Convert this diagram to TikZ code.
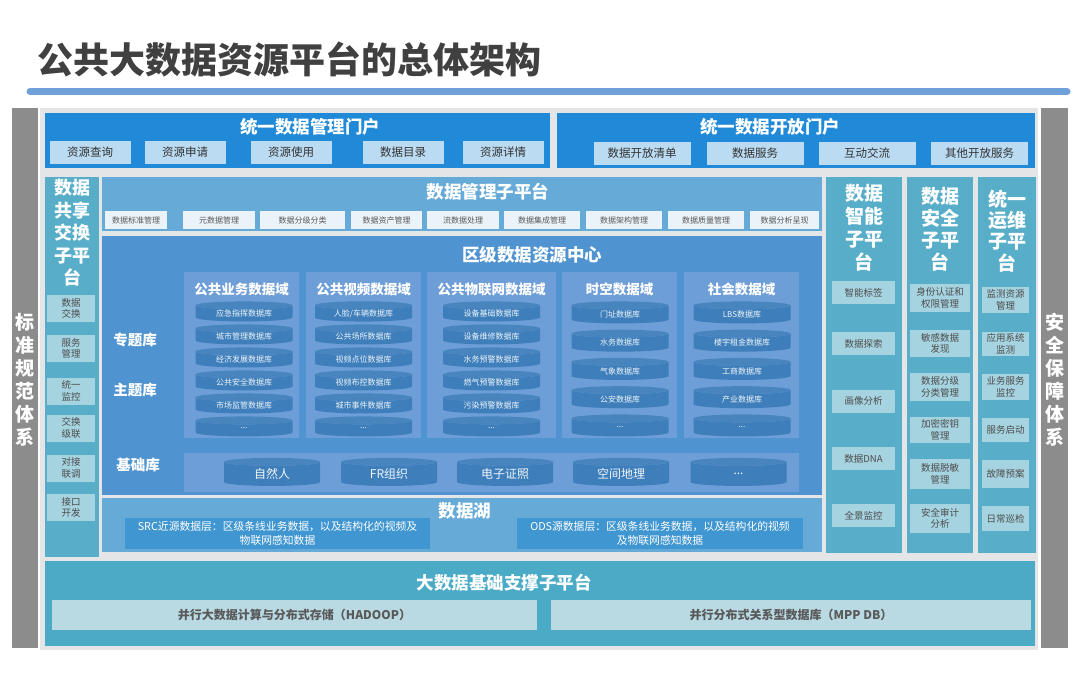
\documentclass[tikz,border=0pt]{standalone}
\usepackage{fontspec}
\setmainfont{Noto Sans CJK SC}
\usetikzlibrary{shapes.geometric, fit, positioning}

\definecolor{sidegray}{HTML}{8C8C8C}
\definecolor{framegray}{HTML}{E3E5E6}
\definecolor{portblue}{HTML}{2089D8}
\definecolor{portlight}{HTML}{BADBF2}
\definecolor{tealcol}{HTML}{58AEC8}
\definecolor{teallight}{HTML}{A6D3E0}
\definecolor{mgmtblue}{HTML}{66AAD8}
\definecolor{mgmtlight}{HTML}{EAF3FA}
\definecolor{centerblue}{HTML}{4F93D0}
\definecolor{domblue}{HTML}{6E9ED8}
\definecolor{cylblue}{HTML}{3E7FBB}
\definecolor{lakebox}{HTML}{4096D0}
\definecolor{baseteal}{HTML}{4BAAC6}
\definecolor{baselight}{HTML}{BADAE3}
\definecolor{titlegray}{HTML}{404040}
\definecolor{barblue}{HTML}{70A0D8}
\definecolor{itemtext}{HTML}{333333}

\newcommand{\etc}{...}

\tikzset{
  area/.style={inner sep=0, outer sep=0, draw=none},
  head/.style={text=white, inner sep=0, font=\bfseries\fontsize{17.5}{20}\selectfont},
  stack/.style={text=white, inner sep=0, align=center, font=\bfseries\fontsize{19}{23}\selectfont},
  portitem/.style={fill=portlight, inner sep=0, minimum width=81, minimum height=23,
    text=itemtext, font=\fontsize{11.5}{13}\selectfont},
  mgmtitem/.style={fill=mgmtlight, inner sep=0, minimum height=18,
    text=black!65, font=\fontsize{8}{9}\selectfont},
  dompanel/.style={fill=domblue, inner sep=0, minimum height=166},
  domtitle/.style={text=white, inner sep=0, font=\bfseries\fontsize{13.5}{15}\selectfont},
  dbcyl/.style={cylinder, shape border rotate=90, aspect=0.09, draw=none,
    cylinder uses custom fill, cylinder body fill=cylblue, cylinder end fill=cylblue!95!white,
    inner sep=0, text width=88, align=center, minimum width=97, minimum height=20,
    text=white!92!cylblue, font=\fontsize{8}{9}\selectfont},
  sideitem/.style={fill=teallight, inner sep=0, align=center,
    text=black!70, font=\fontsize{9.5}{11.5}\selectfont},
  lvl/.style={text=white, inner sep=0, font=\bfseries\fontsize{14.5}{16}\selectfont}
}

\begin{document}
\begin{tikzpicture}[x=1pt, y=-1pt]
  \useasboundingbox (0,0) rectangle (1080,675);

  % title
  \node[anchor=west, inner sep=0, text=titlegray, font=\bfseries\fontsize{36}{40}\selectfont]
    (title) at (37,59) {公共大数据资源平台的总体架构};
  \coordinate (barl) at (30,91.5);
  \coordinate (barr) at (1067,91.5);
  \draw[barblue, line width=7, line cap=round] (barl) -- (barr);

  % frame and side bars
  \node[area, fill=framegray, fit={(40,108) (1038,650)}] (frame) {};
  \node[area, fill=sidegray, fit={(12,108) (38,648)}] (stdbar) {};
  \node[area, fill=sidegray, fit={(1041,108) (1068,648)}] (secbar) {};
  \node[stack] (stdtxt) at (25,380) {标\\准\\规\\范\\体\\系};
  \node[stack] (sectxt) at (1054.5,380) {安\\全\\保\\障\\体\\系};

  % portals
  \node[area, fill=portblue, fit={(45,113) (550,168)}] (mportal) {};
  \node[head] (mportalt) at (310,127) {统一数据管理门户};
  \begin{scope}[every node/.style=portitem]
    \node (q1) at (90,152.5) {资源查询};
    \node (q2) at (185,152.5) {资源申请};
    \node (q3) at (291,152.5) {资源使用};
    \node (q4) at (403,152.5) {数据目录};
    \node (q5) at (503,152.5) {资源详情};
  \end{scope}

  \node[area, fill=portblue, fit={(557,113) (1035,168)}] (oportal) {};
  \node[head] (oportalt) at (770,127) {统一数据开放门户};
  \begin{scope}[every node/.style={portitem, minimum width=97}]
    \node (o1) at (642,153) {数据开放清单};
    \node (o2) at (755,153) {数据服务};
    \node (o3) at (867,153) {互动交流};
    \node (o4) at (979.5,153) {其他开放服务};
  \end{scope}

  % data sharing column
  \node[area, fill=tealcol, fit={(45,177) (99,557)}] (share) {};
  \node[stack, font=\bfseries\fontsize{18}{22.5}\selectfont] (sharet) at (72,233) {数据\\共享\\交换\\子平\\台};
  \begin{scope}[every node/.style={sideitem, minimum width=48, minimum height=27}]
    \node (s1) at (71,308.5) {数据\\交换};
    \node (s2) at (71,348.5) {服务\\管理};
    \node (s3) at (71,391) {统一\\监控};
    \node (s4) at (71,428) {交换\\级联};
    \node (s5) at (71,468) {对接\\联调};
    \node (s6) at (71,507.5) {接口\\开发};
  \end{scope}

  % data management platform
  \node[area, fill=mgmtblue, fit={(102,177) (822,231)}] (mgmt) {};
  \node[head] (mgmtt) at (488,192) {数据管理子平台};
  \begin{scope}[every node/.style=mgmtitem]
    \node[minimum width=62] (m1) at (136,220) {数据标准管理};
    \node[minimum width=72] (m2) at (219,220) {元数据管理};
    \node[minimum width=85] (m3) at (302.5,220) {数据分级分类};
    \node[minimum width=71] (m4) at (386.5,220) {数据资产管理};
    \node[minimum width=72] (m5) at (463,220) {流数据处理};
    \node[minimum width=76] (m6) at (542,220) {数据集成管理};
    \node[minimum width=76] (m7) at (624,220) {数据架构管理};
    \node[minimum width=76] (m8) at (706,220) {数据质量管理};
    \node[minimum width=69] (m9) at (784.5,220) {数据分析呈现};
  \end{scope}

  % district data resource center
  \node[area, fill=centerblue, fit={(102,236) (822,495)}] (center) {};
  \node[head] (centert) at (532,255) {区级数据资源中心};
  \node[lvl] (ztk) at (135,340) {专题库};
  \node[lvl] (ztk2) at (135,390) {主题库};
  \node[lvl] (jck) at (138,465) {基础库};

  \node[dompanel, minimum width=115] (d1) at (241.5,355) {};
  \node[dompanel, minimum width=115] (d2) at (363.5,355) {};
  \node[dompanel, minimum width=129] (d3) at (491.5,355) {};
  \node[dompanel, minimum width=115] (d4) at (619.5,355) {};
  \node[dompanel, minimum width=115] (d5) at (741.5,355) {};
  \node[domtitle] (d1t) at (241.5,289) {公共业务数据域};
  \node[domtitle] (d2t) at (363.5,289) {公共视频数据域};
  \node[domtitle] (d3t) at (491.5,289) {公共物联网数据域};
  \node[domtitle] (d4t) at (619.5,289) {时空数据域};
  \node[domtitle] (d5t) at (741.5,289) {社会数据域};

  \foreach \t [count=\i] in {应急指挥数据库, 城市管理数据库, 经济发展数据库, 公共安全数据库, 市场监管数据库, \etc}
    \node[dbcyl] (ywk\i) at (244,290.5+23*\i) {\t};
  \foreach \t [count=\i] in {人脸/车辆数据库, 公共场所数据库, 视频点位数据库, 视频布控数据库, 城市事件数据库, \etc}
    \node[dbcyl] (spk\i) at (363.5,290.5+23*\i) {\t};
  \foreach \t [count=\i] in {设备基础数据库, 设备维修数据库, 水务预警数据库, 燃气预警数据库, 污染预警数据库, \etc}
    \node[dbcyl] (wlk\i) at (491.5,290.5+23*\i) {\t};
  \foreach \t [count=\i] in {门址数据库, 水务数据库, 气象数据库, 公安数据库, \etc}
    \node[dbcyl, minimum height=22] (skk\i) at (620,286.25+28.25*\i) {\t};
  \foreach \t [count=\i] in {LBS数据库, 楼宇租金数据库, 工商数据库, 产业数据库, \etc}
    \node[dbcyl, minimum height=22] (shk\i) at (742,286.25+28.25*\i) {\t};

  \node[area, fill=domblue, fit={(184,453) (799,492)}] (base) {};
  \begin{scope}[every node/.style={dbcyl, minimum width=96, minimum height=28, font=\fontsize{12}{14}\selectfont}]
    \node (b1) at (272,474) {自然人};
    \node (b2) at (389,474) {FR组织};
    \node (b3) at (505,474) {电子证照};
    \node (b4) at (621,474) {空间地理};
    \node (b5) at (738.5,474) {\etc};
  \end{scope}

  % data lake
  \node[area, fill=mgmtblue, fit={(102,498) (822,552)}] (lake) {};
  \node[head] (laket) at (465,511) {数据湖};
  \begin{scope}[every node/.style={fill=lakebox, inner sep=0, minimum height=31, align=center,
      text=white, font=\fontsize{10.8}{14}\selectfont}]
    \node[minimum width=305] (src) at (277.5,533.5) {SRC近源数据层：区级条线业务数据，以及结构化的视频及\\物联网感知数据};
    \node[minimum width=286] (ods) at (660,533.5) {ODS源数据层：区级条线业务数据，以及结构化的视频\\及物联网感知数据};
  \end{scope}

  % right columns
  \node[area, fill=tealcol, fit={(826,177) (902,553)}] (intel) {};
  \node[stack] (intelt) at (864,227.5) {数据\\智能\\子平\\台};
  \begin{scope}[every node/.style={sideitem, minimum width=63, minimum height=23}]
    \node (i1) at (863.5,292.5) {智能标签};
    \node (i2) at (863.5,343.5) {数据探索};
    \node (i3) at (863.5,401) {画像分析};
    \node (i4) at (863.5,458.5) {数据DNA};
    \node (i5) at (863.5,515.5) {全景监控};
  \end{scope}

  \node[area, fill=tealcol, fit={(907,177) (973,553)}] (secu) {};
  \node[stack, font=\bfseries\fontsize{19}{22}\selectfont] (secut) at (940,229.5) {数据\\安全\\子平\\台};
  \begin{scope}[every node/.style={sideitem, minimum width=60}]
    \node[minimum height=28] (a1) at (940,298) {身份认证和\\权限管理};
    \node[minimum height=27] (a2) at (940,343.5) {敏感数据\\发现};
    \node[minimum height=28] (a3) at (940,387) {数据分级\\分类管理};
    \node[minimum height=26] (a4) at (940,430) {加密密钥\\管理};
    \node[minimum height=30] (a5) at (940,474) {数据脱敏\\管理};
    \node[minimum height=29] (a6) at (940,518.5) {安全审计\\分析};
  \end{scope}

  \node[area, fill=tealcol, fit={(978,177) (1036,553)}] (ops) {};
  \node[stack, font=\bfseries\fontsize{19}{21.2}\selectfont] (opst) at (1007,231) {统一\\运维\\子平\\台};
  \begin{scope}[every node/.style={sideitem, minimum width=47}]
    \node[minimum height=26] (u1) at (1005.5,300) {监测资源\\管理};
    \node[minimum height=24] (u2) at (1005.5,344) {应用系统\\监测};
    \node[minimum height=26] (u3) at (1005.5,387) {业务服务\\监控};
    \node[minimum height=24] (u4) at (1005.5,430) {服务启动};
    \node[minimum height=28] (u5) at (1005.5,474) {故障预案};
    \node[minimum height=25] (u6) at (1005.5,518.5) {日常巡检};
  \end{scope}

  % big data base platform
  \node[area, fill=baseteal, fit={(45,561) (1035,646)}] (infra) {};
  \node[head] (infrat) at (504,583) {大数据基础支撑子平台};
  \begin{scope}[every node/.style={fill=baselight, inner sep=0, minimum height=30,
      text=black!65, font=\bfseries\fontsize{12}{14}\selectfont}]
    \node[minimum width=485] (hdp) at (294.5,615) {并行大数据计算与分布式存储（HADOOP）};
    \node[minimum width=480] (mpp) at (791,615) {并行分布式关系型数据库（MPP DB）};
  \end{scope}
\end{tikzpicture}
\end{document}
